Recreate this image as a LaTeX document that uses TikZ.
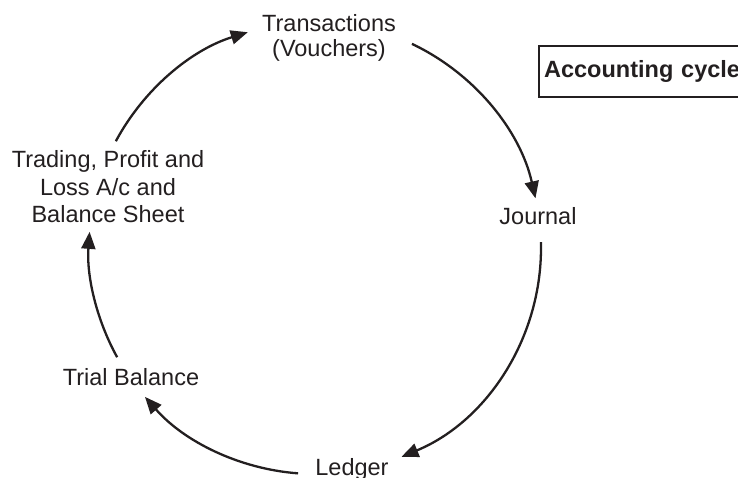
\documentclass[tikz,border=0pt]{standalone}
\usepackage{fontspec}
\setmainfont{Liberation Sans}
\usetikzlibrary{arrows.meta,calc}
\definecolor{ink}{HTML}{231F20}
\begin{document}
\begin{tikzpicture}[x=1pt,y=1pt,
  lbl/.style={font=\fontsize{23.5}{27.5}\selectfont, text=ink, align=center, inner sep=0pt, anchor=base},
  cyc/.style={draw=ink, line width=2.3pt, -{Triangle[length=17pt,width=14pt]}},
  titlebox/.style={draw=ink, line width=2.2pt, font=\bfseries\fontsize{23.5}{27.5}\selectfont, text=ink,
    anchor=west, inner xsep=4pt, minimum height=51pt, minimum width=215pt, align=left, text width=205pt}]
\clip (0,0) rectangle (738,477);
\coordinate (c) at (315,229);
\node[lbl, font=\fontsize{23.5}{25.5}\selectfont] (trans) at (329,420) {Transactions\\(Vouchers)};
\node[lbl] (journal) at (538,252) {Journal};
\node[lbl] (ledger) at (352,2) {Ledger};
\node[lbl] (trial) at (131,92) {Trial Balance};
\node[lbl] (trading) at (108,254) {Trading, Profit and\\Loss A/c and\\Balance Sheet};
\node[titlebox] (title) at (538,405.5) {Accounting cycle};
\coordinate (s1) at ($(c)+(151.8:226)$);
\coordinate (s2) at ($(c)+(64.6:226)$);
\coordinate (s3) at ($(c)+(1.5:226)$);
\coordinate (s4) at ($(c)+(265.7:226)$);
\coordinate (s5) at ($(c)+(208.9:226)$);
\draw[cyc] (s1) arc[start angle=151.8, end angle=107.3, radius=226];
\draw[cyc] (s2) arc[start angle=64.6, end angle=12.7, radius=226];
\draw[cyc] (s3) arc[start angle=1.5, end angle=-67.5, radius=226];
\draw[cyc] (s4) arc[start angle=265.7, end angle=221.2, radius=226];
\draw[cyc] (s5) arc[start angle=208.9, end angle=175.9, radius=226];
\end{tikzpicture}
\end{document}
